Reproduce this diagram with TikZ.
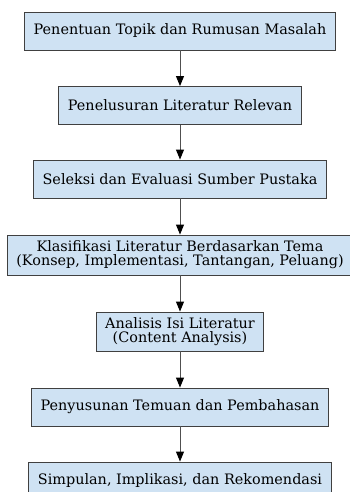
\documentclass[tikz,border=0pt]{standalone}
\usepackage{fontspec}
\setmainfont{DejaVu Serif}
\usetikzlibrary{arrows.meta}
\definecolor{boxfill}{RGB}{207,226,243}
\definecolor{boxline}{RGB}{64,64,64}
\definecolor{flow}{RGB}{80,80,80}
\tikzstyle{stepbox}=[rectangle, draw=boxline, fill=boxfill, line width=0.9pt, minimum height=38pt, inner xsep=9pt, align=center, font=\fontsize{14.4}{14.2}\selectfont]
\tikzset{flowarrow/.style={-{Triangle[length=10pt,width=8pt,color=black]}, flow, line width=1pt}}

\begin{document}
\begin{tikzpicture}[x=1pt,y=-1pt]
  \useasboundingbox (0,0) rectangle (350,492);
  \draw (180,31) node[stepbox] (S1) {Penentuan Topik dan Rumusan Masalah};
  \draw (180,105.5) node[stepbox] (S2) {Penelusuran Literatur Relevan};
  \draw (180,179) node[stepbox] (S3) {Seleksi dan Evaluasi Sumber Pustaka};
  \draw (180,255) node[stepbox, minimum height=40pt, inner ysep=2pt] (S4) {Klasifikasi Literatur Berdasarkan Tema\\(Konsep, Implementasi, Tantangan, Peluang)};
  \draw (180,331.5) node[stepbox, minimum height=39pt, inner ysep=2pt] (S5) {Analisis Isi Literatur\\(Content Analysis)};
  \draw (180,407) node[stepbox] (S6) {Penyusunan Temuan dan Pembahasan};
  \draw (180,481) node[stepbox] (S7) {Simpulan, Implikasi, dan Rekomendasi};

  \draw[flowarrow] (S1) -- (S2);
  \draw[flowarrow] (S2) -- (S3);
  \draw[flowarrow] (S3) -- (S4);
  \draw[flowarrow] (S4) -- (S5);
  \draw[flowarrow] (S5) -- (S6);
  \draw[flowarrow] (S6) -- (S7);
\end{tikzpicture}
\end{document}
